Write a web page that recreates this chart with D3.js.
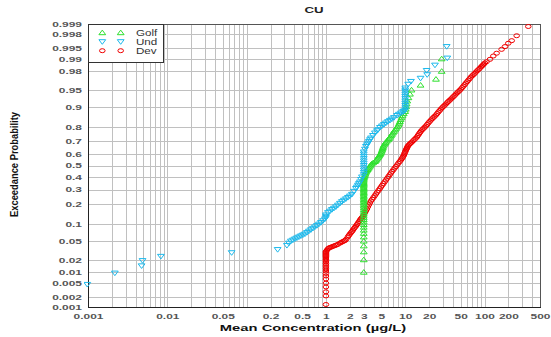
<!DOCTYPE html>
<html>
<head>
<meta charset="utf-8">
<script src="https://cdn.jsdelivr.net/npm/d3@7"></script>
<style>
  body { margin: 0; background: #fff; }
  text { font-family: "Liberation Sans", Arial, sans-serif; }
</style>
</head>
<body>
<svg id="chart" width="551" height="337"></svg>
<script>
// Tick values for the log concentration axis and the normal-probability axis
const xTickValues = [0.001, 0.01, 0.05, 0.2, 0.5, 1, 2, 3, 5, 10, 20, 50, 100, 200, 500];
const yTickValues = [0.001, 0.002, 0.005, 0.01, 0.02, 0.05, 0.1, 0.2, 0.3, 0.4, 0.5, 0.6, 0.7, 0.8, 0.9, 0.95, 0.98, 0.99, 0.995, 0.998, 0.999];

const seriesNames = ["Golf", "Und", "Dev"];

// [mean concentration (µg/L), exceedance probability]
const golfData = [
  [3, 0.0099], [3, 0.0198], [3, 0.0297], [3, 0.0396], [3, 0.0495], [3, 0.0594], [3, 0.0693], [3, 0.0792], [3, 0.0891], [3, 0.0990],
  [3, 0.1089], [3, 0.1188], [3, 0.1287], [3, 0.1386], [3, 0.1485], [3, 0.1584], [3, 0.1683], [3, 0.1782], [3, 0.1881], [3, 0.1980],
  [3, 0.2079], [3, 0.2178], [3, 0.2277], [3, 0.2376], [3, 0.2475], [3, 0.2574], [3, 0.2673], [3, 0.2772], [3, 0.2871], [3, 0.2970],
  [3, 0.3069], [3, 0.3168], [3, 0.3267], [3, 0.3366], [3, 0.3465], [3, 0.3564], [3, 0.3663], [3, 0.3762], [3, 0.3861], [3.02, 0.3960],
  [3.06, 0.4059], [3.1, 0.4158], [3.13, 0.4257], [3.17, 0.4356], [3.21, 0.4455], [3.28, 0.4554], [3.36, 0.4653], [3.43, 0.4752], [3.51, 0.4851], [3.6, 0.4950],
  [3.68, 0.5050], [3.78, 0.5149], [3.95, 0.5248], [4.15, 0.5347], [4.26, 0.5446], [4.37, 0.5545], [4.49, 0.5644], [4.61, 0.5743], [4.69, 0.5842], [4.79, 0.5941],
  [4.88, 0.6040], [4.98, 0.6139], [5.05, 0.6238], [5.11, 0.6337], [5.17, 0.6436], [5.23, 0.6535], [5.29, 0.6634], [5.4, 0.6733], [5.53, 0.6832], [5.66, 0.6931],
  [5.86, 0.7030], [6.09, 0.7129], [6.27, 0.7228], [6.43, 0.7327], [6.62, 0.7426], [6.8, 0.7525], [7.0, 0.7624], [7.22, 0.7723], [7.46, 0.7822], [7.7, 0.7921],
  [7.95, 0.8020], [8.21, 0.8119], [8.38, 0.8218], [8.55, 0.8317], [8.75, 0.8416], [8.98, 0.8515], [9.25, 0.8614], [9.57, 0.8713], [9.97, 0.8812], [10.15, 0.8911],
  [10.26, 0.9010], [10.41, 0.9109], [10.6, 0.9208], [10.97, 0.9307], [11.47, 0.9406], [12.0, 0.9505], [15.6, 0.9604], [24.4, 0.9703], [28.8, 0.9802], [28.8, 0.9901]
];

const undData = [
  [0.00098, 0.0047], [0.00218, 0.0094], [0.00474, 0.0142], [0.00487, 0.0189], [0.0083, 0.0236], [0.0647, 0.0284], [0.246, 0.0332],
  [0.322, 0.0404], [0.3415, 0.0450], [0.3619, 0.0493], [0.3836, 0.0517], [0.4065, 0.0543], [0.4309, 0.0568], [0.4566, 0.0593],
  [0.484, 0.0620], [0.5129, 0.0646], [0.5436, 0.0673], [0.5761, 0.0715], [0.6105, 0.0758], [0.647, 0.0802], [0.6857, 0.0850],
  [0.7268, 0.0897], [0.7702, 0.0948], [0.8162, 0.1001], [0.865, 0.1064], [0.9167, 0.1138], [0.9714, 0.1215],
  [1, 0.1272], [1, 0.1336], [1, 0.1402], [1.06, 0.1516], [1.123, 0.1592], [1.19, 0.1679], [1.262, 0.1753], [1.337, 0.1833],
  [1.417, 0.1933], [1.502, 0.2042], [1.591, 0.2148], [1.687, 0.2240], [1.787, 0.2331], [1.894, 0.2426], [2.007, 0.2524],
  [2.128, 0.2644], [2.255, 0.2861], [2.389, 0.3078], [2.46, 0.3192], [2.532, 0.3333], [2.607, 0.3461], [2.684, 0.3595],
  [2.763, 0.3802], [2.844, 0.4009],
  [3, 0.4207], [3, 0.4404], [3, 0.4602], [3, 0.4801], [3, 0.5], [3, 0.5199], [3, 0.5398], [3, 0.5596], [3, 0.5793], [3, 0.5987], [3, 0.616],
  [3.104, 0.6387], [3.195, 0.6609], [3.289, 0.6743], [3.386, 0.6876], [3.485, 0.7005], [3.588, 0.7132], [3.694, 0.7257],
  [3.914, 0.7438], [4.149, 0.7611], [4.397, 0.7758], [4.526, 0.7823], [4.797, 0.7966], [5.084, 0.8058], [5.388, 0.8145],
  [5.708, 0.8232], [6.05, 0.8306], [6.412, 0.8378], [6.797, 0.8448], [7.202, 0.8522], [7.859, 0.8625], [8.327, 0.8683],
  [8.83, 0.8741], [9.355, 0.8799], [9.63, 0.8829],
  [10, 0.8872], [10, 0.8962], [10, 0.9049], [10, 0.9131], [10, 0.9207], [10, 0.9278], [10, 0.9345], [10, 0.9406], [10, 0.9463], [10, 0.9505], [10, 0.9547],
  [10.9, 0.962], [11.8, 0.9668], [15.6, 0.9716], [18.9, 0.9763], [18.6, 0.981], [23.7, 0.9858], [33.9, 0.9905], [33.3, 0.9953]
];

const devData = [
  [1, 0.0012], [1, 0.0022], [1, 0.0029], [1, 0.004], [1, 0.0051], [1, 0.0066], [1, 0.0079], [1, 0.0092], [1, 0.0106], [1, 0.012],
  [1, 0.0134], [1, 0.0148], [1, 0.0162], [1, 0.0176], [1, 0.019], [1, 0.0204], [1, 0.0218], [1, 0.0232], [1, 0.0246], [1, 0.026],
  [1, 0.0274], [1, 0.0288], [1, 0.0302],
  [1.03, 0.0322], [1.06, 0.0344], [1.09, 0.0359], [1.13, 0.0367], [1.17, 0.0375], [1.21, 0.0384], [1.26, 0.0394], [1.31, 0.0404],
  [1.36, 0.0414], [1.42, 0.0427], [1.5, 0.0451], [1.56, 0.0465], [1.62, 0.048], [1.68, 0.0495], [1.74, 0.0507], [1.8, 0.0537], [1.89, 0.0593],
  [1.94, 0.063], [2.0, 0.0668], [2.06, 0.0708], [2.13, 0.0748], [2.19, 0.0793], [2.25, 0.0838], [2.32, 0.0885], [2.39, 0.0933],
  [2.46, 0.0985], [2.53, 0.1038], [2.61, 0.1103], [2.69, 0.117], [2.75, 0.121], [2.81, 0.1251], [2.87, 0.129], [2.93, 0.1327],
  [3.01, 0.142], [3.1, 0.1515], [3.19, 0.161], [3.29, 0.1711], [3.38, 0.183], [3.48, 0.1949], [3.58, 0.207], [3.69, 0.2192],
  [3.83, 0.2305], [3.97, 0.242], [4.12, 0.2545], [4.27, 0.267], [4.43, 0.28], [4.6, 0.2929], [4.77, 0.306], [4.94, 0.3195],
  [5.12, 0.333], [5.3, 0.3464], [5.5, 0.361], [5.71, 0.3756], [5.93, 0.3905], [6.15, 0.4052], [6.37, 0.42], [6.6, 0.4349],
  [6.85, 0.4495], [7.1, 0.4641], [7.36, 0.4777], [7.63, 0.4912], [7.91, 0.5056], [8.2, 0.5199], [8.5, 0.534], [8.83, 0.5478],
  [9.04, 0.5587], [9.25, 0.5695], [9.44, 0.58], [9.63, 0.5906], [9.77, 0.6015], [9.9, 0.6122], [10.05, 0.6222], [10.2, 0.6323],
  [10.35, 0.64], [10.5, 0.648], [10.65, 0.6565], [10.8, 0.6649], [11.1, 0.673], [11.4, 0.6808], [11.75, 0.6885], [12.15, 0.696],
  [12.6, 0.706], [13.1, 0.7157], [13.55, 0.7245], [14.05, 0.733], [14.45, 0.744], [14.9, 0.7549], [15.35, 0.7647], [15.8, 0.7743],
  [16.4, 0.7828], [17.0, 0.791], [17.6, 0.7985], [18.2, 0.8057], [18.9, 0.815], [19.6, 0.8238], [20.3, 0.8318], [21.1, 0.8397],
  [21.9, 0.8465], [22.7, 0.8531], [23.5, 0.859], [24.4, 0.865], [25.3, 0.872], [26.2, 0.879], [27.2, 0.8853], [28.2, 0.8914],
  [29.2, 0.8965], [30.3, 0.9015], [31.4, 0.906], [32.6, 0.9104], [33.8, 0.915], [35.0, 0.9192], [36.3, 0.923], [37.7, 0.9267],
  [39.1, 0.9303], [40.5, 0.9338], [42.0, 0.9373], [43.6, 0.9408], [45.2, 0.9438], [46.9, 0.9468], [48.6, 0.9497], [50.4, 0.9525],
  [52.3, 0.9556], [54.2, 0.9586], [56.2, 0.9614], [58.2, 0.9641], [60.4, 0.9665], [62.6, 0.9689], [64.9, 0.9711], [67.3, 0.9733],
  [69.8, 0.9749], [72.4, 0.9764], [75.1, 0.9779], [77.9, 0.9794], [80.8, 0.9807], [83.8, 0.9819], [86.9, 0.9831], [90.1, 0.9843],
  [92.8, 0.9851], [95.5, 0.9859], [98.2, 0.9867], [101, 0.9874],
  [106, 0.9883], [117, 0.9898], [129, 0.9916], [142, 0.9929], [164, 0.9944], [181, 0.9953], [199, 0.9962], [220, 0.9968], [254, 0.9977], [356, 0.9988]
];

// ---- layout ----
const plot = { left: 88, right: 540, top: 24, bottom: 307 };
const SX = 1.55;            // horizontal stretch of the labelling font
const tickFont = 7.7;

const svg = d3.select("#chart");

// Inverse of the standard normal CDF (Acklam's rational approximation)
function probit(p) {
  const a = [-3.969683028665376e+01, 2.209460984245205e+02, -2.759285104469687e+02, 1.383577518672690e+02, -3.066479806614716e+01, 2.506628277459239e+00];
  const b = [-5.447609879822406e+01, 1.615858368580409e+02, -1.556989798598866e+02, 6.680131188771972e+01, -1.328068155288572e+01];
  const c = [-7.784894002430293e-03, -3.223964580411365e-01, -2.400758277161838e+00, -2.549732539343734e+00, 4.374664141464968e+00, 2.938163982698783e+00];
  const d = [7.784695709041462e-03, 3.224671290700398e-01, 2.445134137142996e+00, 3.754408661907416e+00];
  const pl = 0.02425;
  let q, r;
  if (p < pl) {
    q = Math.sqrt(-2 * Math.log(p));
    return (((((c[0]*q+c[1])*q+c[2])*q+c[3])*q+c[4])*q+c[5]) / ((((d[0]*q+d[1])*q+d[2])*q+d[3])*q+1);
  } else if (p <= 1 - pl) {
    q = p - 0.5; r = q * q;
    return (((((a[0]*r+a[1])*r+a[2])*r+a[3])*r+a[4])*r+a[5])*q / (((((b[0]*r+b[1])*r+b[2])*r+b[3])*r+b[4])*r+1);
  } else {
    q = Math.sqrt(-2 * Math.log(1 - p));
    return -(((((c[0]*q+c[1])*q+c[2])*q+c[3])*q+c[4])*q+c[5]) / ((((d[0]*q+d[1])*q+d[2])*q+d[3])*q+1);
  }
}

const x = d3.scaleLog().domain([0.001, 500]).range([plot.left, plot.right]);

// Normal-probability scale: a linear scale over probit(p)
const zScale = d3.scaleLinear().domain([probit(0.001), probit(0.999)]).range([plot.bottom, plot.top]);
function y(p) { return zScale(probit(p)); }
y.domain = () => [0.001, 0.999];
y.range = () => zScale.range();
y.copy = () => y;

// ---- grid ----
const grid = svg.append("g").attr("stroke", "#c0c0c0").attr("stroke-width", 1).attr("shape-rendering", "crispEdges");
grid.selectAll("line.v").data(x.ticks()).join("line").attr("class", "v")
  .attr("x1", d => Math.round(x(d)) + 0.5).attr("x2", d => Math.round(x(d)) + 0.5)
  .attr("y1", plot.top).attr("y2", plot.bottom);
grid.selectAll("line.h").data(yTickValues).join("line").attr("class", "h")
  .attr("y1", d => Math.round(y(d)) + 0.5).attr("y2", d => Math.round(y(d)) + 0.5)
  .attr("x1", plot.left).attr("x2", plot.right);

// ---- axes (labels only, no tick marks) ----
const fmt = d => String(d);
const xAxis = svg.append("g").attr("transform", `translate(0,${plot.bottom})`)
  .call(d3.axisBottom(x).tickValues(xTickValues).tickFormat(fmt).tickSize(0).tickPadding(7));
const yAxis = svg.append("g").attr("transform", `translate(${plot.left},0)`)
  .call(d3.axisLeft(y).tickValues(yTickValues).tickFormat(fmt).tickSize(0).tickPadding(6 / SX));
[xAxis, yAxis].forEach(ax => {
  ax.select(".domain").remove();
  ax.selectAll("text")
    .attr("font-size", tickFont).attr("font-family", "Liberation Sans, Arial, sans-serif")
    .attr("font-weight", "bold").attr("fill", "#555")
    .attr("transform", `scale(${SX},1)`);
});
xAxis.selectAll("text").attr("x", 0).attr("dy", "0.71em");

// ---- frame ----
svg.append("rect").attr("x", plot.left + 0.5).attr("y", plot.top + 0.5)
  .attr("width", plot.right - plot.left).attr("height", plot.bottom - plot.top)
  .attr("fill", "none").attr("stroke", "#555").attr("stroke-width", 1).attr("shape-rendering", "crispEdges");
svg.append("line").attr("x1", plot.left + 0.5).attr("x2", plot.left + 0.5).attr("y1", plot.top).attr("y2", plot.bottom + 1)
  .attr("stroke", "#222").attr("shape-rendering", "crispEdges");
svg.append("line").attr("x1", plot.left).attr("x2", plot.right + 1).attr("y1", plot.bottom + 0.5).attr("y2", plot.bottom + 0.5)
  .attr("stroke", "#222").attr("shape-rendering", "crispEdges");

// ---- markers ----
const markerPaths = {
  Golf: "M0,-2.6L3.4,2L-3.4,2Z",
  Und: "M0,2.6L3.4,-2L-3.4,-2Z"
};
const colors = { Golf: "#2ee02e", Und: "#1cb9ec", Dev: "#f00000" };

const clipId = "plotClip";
svg.append("clipPath").attr("id", clipId).append("rect")
  .attr("x", plot.left - 4).attr("y", plot.top - 4)
  .attr("width", plot.right - plot.left + 8).attr("height", plot.bottom - plot.top + 8);
const marks = svg.append("g").attr("clip-path", `url(#${clipId})`);

function drawSeries(name, data) {
  const g = marks.append("g").attr("fill", "none").attr("stroke", colors[name]).attr("stroke-width", 1);
  if (name === "Dev") {
    g.selectAll("ellipse").data(data).join("ellipse")
      .attr("cx", d => x(d[0])).attr("cy", d => y(d[1])).attr("rx", 2.8).attr("ry", 2.0);
  } else {
    g.selectAll("path").data(data).join("path")
      .attr("transform", d => `translate(${x(d[0])},${y(d[1])})`).attr("d", markerPaths[name]);
  }
}
drawSeries("Dev", devData);
drawSeries("Golf", golfData);
drawSeries("Und", undData);

// ---- legend ----
const legend = svg.append("g");
legend.append("rect").attr("x", plot.left + 0.5).attr("y", plot.top + 0.5).attr("width", 75).attr("height", 38)
  .attr("fill", "#fff").attr("stroke", "#333").attr("shape-rendering", "crispEdges");
seriesNames.forEach((name, i) => {
  const cy = 32.7 + i * 9;
  [102.3, 120.7].forEach(cx => {
    if (name === "Dev") {
      legend.append("ellipse").attr("cx", cx).attr("cy", cy).attr("rx", 2.8).attr("ry", 2.0)
        .attr("fill", "none").attr("stroke", colors[name]);
    } else {
      legend.append("path").attr("transform", `translate(${cx},${cy})`).attr("d", markerPaths[name])
        .attr("fill", "none").attr("stroke", colors[name]);
    }
  });
  legend.append("text").attr("transform", `translate(136,${cy}) scale(1.35,1)`)
    .attr("dy", "0.35em").attr("font-size", 8.6).attr("fill", "#333").text(name);
});

// ---- titles ----
svg.append("text").attr("transform", `translate(314,9.3) scale(1.4,1)`).attr("dy", "0.36em")
  .attr("text-anchor", "middle").attr("font-size", 9.5).attr("font-weight", "bold").attr("fill", "#222").text("CU");
svg.append("text").attr("transform", `translate(313,327.5) scale(1.64,1)`).attr("dy", "0.36em")
  .attr("text-anchor", "middle").attr("font-size", 9).attr("font-weight", "bold").attr("fill", "#111")
  .text("Mean Concentration (µg/L)");
svg.append("text").attr("transform", `translate(14,164.5) rotate(-90) scale(0.9,1)`).attr("dy", "0.36em")
  .attr("text-anchor", "middle").attr("font-size", 10.4).attr("font-weight", "bold").attr("fill", "#111")
  .text("Exceedance Probability");
</script>
</body>
</html>
